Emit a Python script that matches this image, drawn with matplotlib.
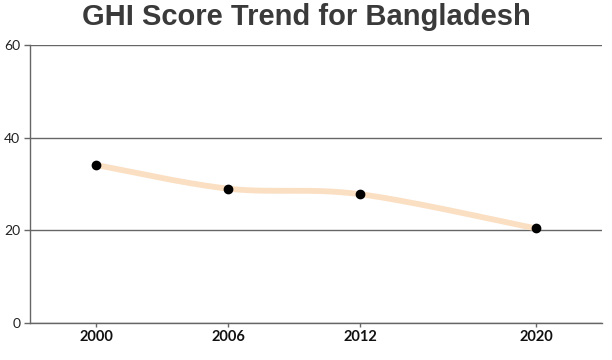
import numpy as np
import matplotlib
matplotlib.use("Agg")
import matplotlib.pyplot as plt

years = [2000, 2006, 2012, 2020]
scores = [34.1, 29.0, 27.8, 20.4]
y_ticks = [0, 20, 40, 60]
title = "GHI Score Trend for Bangladesh"


def catmull_rom(xs, ys, n=60):
    xs = np.asarray(xs, float)
    ys = np.asarray(ys, float)
    px = np.concatenate([[xs[0]], xs, [xs[-1]]])
    py = np.concatenate([[ys[0]], ys, [ys[-1]]])
    out_x, out_y = [], []
    for i in range(1, len(px) - 2):
        p0, p1, p2, p3 = (np.array([px[j], py[j]]) for j in (i - 1, i, i + 1, i + 2))
        c1 = p1 + (p2 - p0) / 6
        c2 = p2 - (p3 - p1) / 6
        t = np.linspace(0, 1, n)[:, None]
        b = ((1 - t) ** 3) * p1 + 3 * ((1 - t) ** 2) * t * c1 + 3 * (1 - t) * t ** 2 * c2 + t ** 3 * p2
        out_x.extend(b[:, 0]); out_y.extend(b[:, 1])
    return np.array(out_x), np.array(out_y)


fig = plt.figure(figsize=(6.12, 3.6), dpi=100)
ax = fig.add_axes([30 / 612, 1 - 323 / 360, 572 / 612, 278 / 360])

sx, sy = catmull_rom(years, scores)
ax.plot(sx, sy, color="#FADFC3", lw=4.2, solid_capstyle="round", zorder=2)
ax.plot(years, scores, "o", color="black", ms=6, zorder=3)

ax.set_xlim(1997, 2023)
ax.set_ylim(0, 60)
ax.set_yticks(y_ticks)
ax.set_xticks(years)
ax.grid(axis="y", color="#666666", lw=1)
ax.set_axisbelow(True)
for s in ["top", "right"]:
    ax.spines[s].set_visible(False)
for s in ["left", "bottom"]:
    ax.spines[s].set_color("#666666")
    ax.spines[s].set_linewidth(1)
ax.tick_params(axis="y", length=4, color="#666666", width=1, pad=3,
               labelsize=10, labelcolor="#222222")
ax.tick_params(axis="x", length=3, color="#666666", width=1, pad=2,
               labelsize=10.5, labelcolor="#111111")
for lab in ax.get_yticklabels():
    lab.set_fontfamily("Lato")
for lab in ax.get_xticklabels():
    lab.set_fontfamily("Lato")
    lab.set_fontweight("bold")

fig.text(0.5, 1 - 17 / 360, title, ha="center", va="center",
         fontsize=21, fontweight="bold", color="#3A3A3A", family="Liberation Sans")

fig.savefig("out.png", dpi=100)
